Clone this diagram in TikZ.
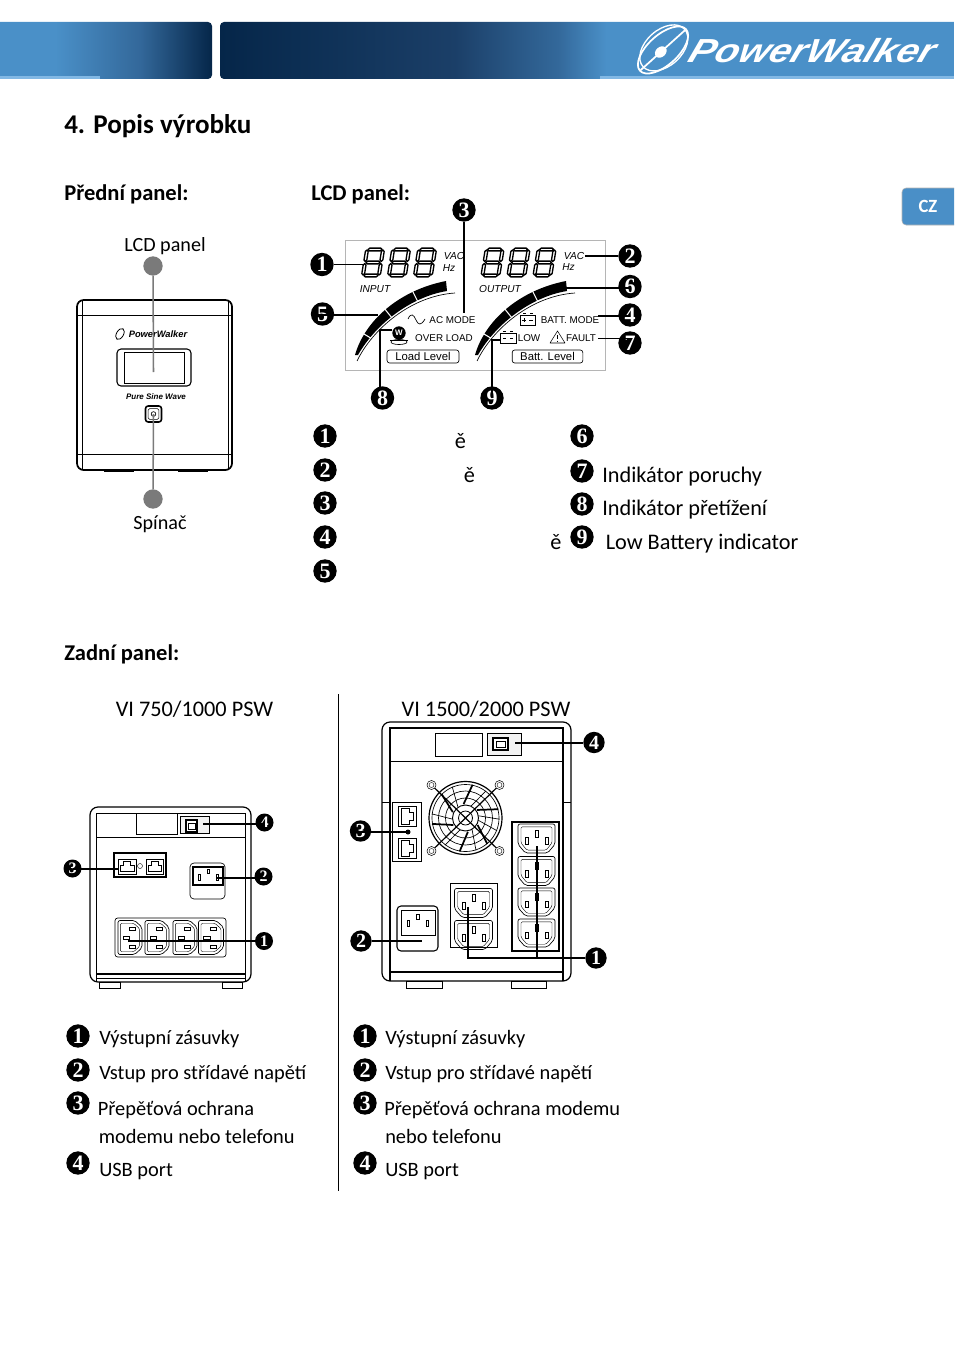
\documentclass[tikz,border=0pt]{standalone}
\usepackage{fontspec}
\setmainfont{Carlito}
\newfontfamily\digfont{Liberation Serif}
\newfontfamily\lcdfont{Liberation Sans}
\definecolor{barbl}{HTML}{4A90C8}
\definecolor{bardk}{HTML}{052649}
\definecolor{barmid}{HTML}{1B3F68}
\definecolor{barmb}{HTML}{33689A}
\definecolor{barlt}{HTML}{82B8E4}
\definecolor{tabbl}{HTML}{4A8FC7}
\definecolor{dotgray}{HTML}{7A7A7A}
\definecolor{lcdgray}{HTML}{B5B5B5}
\pgfdeclarehorizontalshading{barone}{100bp}{color(0bp)=(barbl); color(38bp)=(barbl); color(58bp)=(barmb); color(75bp)=(bardk); color(100bp)=(bardk)}
\pgfdeclarehorizontalshading{bartwo}{100bp}{color(0bp)=(bardk); color(25bp)=(bardk); color(41bp)=(barmid); color(48bp)=(barmb); color(51.3bp)=(barbl); color(100bp)=(barbl)}
\tikzset{
  numbig/.style={circle,fill=black,inner sep=0pt,minimum size=17.5pt,text=white,font=\digfont\bfseries\fontsize{16.5}{17}\selectfont},
  numsmall/.style={circle,fill=black,inner sep=0pt,minimum size=13.5pt,text=white,font=\digfont\bfseries\fontsize{12}{12}\selectfont},
  lead/.style={draw=black,line width=1.5pt},
  leadl/.style={draw=black,line width=1.15pt},
  glead/.style={draw=dotgray,line width=1.15pt},
  gdot/.style={circle,fill=dotgray,inner sep=0pt,minimum size=14.5pt},
  body/.style={anchor=base west,inner sep=0pt,font=\fontsize{16.7}{18}\selectfont},
  bodyc/.style={anchor=base,inner sep=0pt,font=\fontsize{16.7}{18}\selectfont},
  rear/.style={anchor=base west,inner sep=0pt,font=\fontsize{15.3}{18}\selectfont},
  labc/.style={anchor=base,inner sep=0pt,font=\fontsize{15.1}{18}\selectfont},
  head/.style={anchor=base west,inner sep=0pt,font=\bfseries\fontsize{16.9}{18}\selectfont},
  lcdit/.style={anchor=base,inner sep=0pt,font=\lcdfont\itshape\fontsize{7.6}{8}\selectfont},
  lcdtx/.style={anchor=base,inner sep=0pt,font=\lcdfont\fontsize{7.4}{8}\selectfont},
  lcdbox/.style={draw=black,line width=.5pt,rounded corners=2pt,inner sep=0pt,font=\lcdfont\fontsize{8.5}{9}\selectfont},
  seg/.style={draw=black,fill=white,line width=1pt,line join=round},
  ups/.style={draw=black,line width=.5pt},
  upsb/.style={draw=black,line width=.9pt},
  thinl/.style={draw=black,line width=.3pt},
}
\newcommand\hseg[1]{\path[seg] (2,#1)--(3.5,#1-1.4)--(14.5,#1-1.4)--(16,#1)--(14.5,#1+1.4)--(3.5,#1+1.4)--cycle;}
\newcommand\vseg[3]{\path[seg] (#1,#2)--(#1+1.4,#2+1.5)--(#1+1.4,#3-1.5)--(#1,#3)--(#1-1.4,#3-1.5)--(#1-1.4,#2+1.5)--cycle;}
\newcommand\segdigit[2]{%
  \begin{scope}[shift={(#1,#2)},xslant=0.16]
    \hseg{-13}\hseg{0}\hseg{13}
    \vseg{1}{-12.5}{-1}\vseg{1}{1}{12.5}
    \vseg{17}{-12.5}{-1}\vseg{17}{1}{12.5}
  \end{scope}}
\newcommand\meter[1]{%
  \begin{scope}[shift={(#1,0)}]
    \fill[black] (355,355) .. controls (365,320) and (400,290) .. (446,281) -- (447,291) .. controls (410,297) and (375,325) .. (358,355) -- cycle;
    \draw[white,line width=.8pt] (364,334)--(374,340);
    \draw[white,line width=.8pt] (384,308)--(392,318);
    \draw[white,line width=.8pt] (412,290)--(418,302);
    \draw[black,line width=.5pt] (357,361) .. controls (372,330) and (410,296) .. (455,293);
  \end{scope}}
\newcommand\outlet[5]{% x y rot w h
  \begin{scope}[shift={(#1,#2)},rotate=#3]
    \draw[ups,rounded corners=1.5pt] (-#4/2,-#5/2)--(#4/2,-#5/2)--(#4/2,#5*.2)--(#4*.3,#5/2)--(-#4*.3,#5/2)--(-#4/2,#5*.2)--cycle;
    \draw[thinl,rounded corners=1pt] (-#4*.42,-#5*.4)--(#4*.42,-#5*.4)--(#4*.42,#5*.15)--(#4*.26,#5*.4)--(-#4*.26,#5*.4)--(-#4*.42,#5*.15)--cycle;
    \draw[thinl] (-1.5,-#5*.3) rectangle (1.5,-#5*.05);
    \draw[thinl] (-#4*.27-1.5,-#5*.03) rectangle (-#4*.27+1.5,#5*.2);
    \draw[thinl] (#4*.27-1.5,-#5*.03) rectangle (#4*.27+1.5,#5*.2);
  \end{scope}}
\newcommand\jack[5]{% x y rot w h
  \begin{scope}[shift={(#1,#2)},rotate=#3]
    \draw[ups] (-#4/2,-#5/2) rectangle (#4/2,#5/2);
    \draw[thinl] (-#4*.4,#5*.3)--(-#4*.4,-#5*.1)--(-#4*.2,-#5*.1)--(-#4*.2,-#5*.35)--(#4*.2,-#5*.35)--(#4*.2,-#5*.1)--(#4*.4,-#5*.1)--(#4*.4,#5*.3)--cycle;
  \end{scope}}
\begin{document}
\begin{tikzpicture}[x=0.75pt,y=-0.75pt]
\useasboundingbox (0,0) rectangle (954,1352);
\fill[white] (0,0) rectangle (954,1352);
% header
\path[shading=barone] (0,22) [rounded corners=3pt] -- (212,22) -- (212,79) [sharp corners] -- (0,79) -- cycle;
\path[shading=bartwo] (954,22) [rounded corners=3pt] -- (220,22) -- (220,79) [sharp corners] -- (954,79) -- cycle;
\fill[barlt] (0,76) rectangle (100,79);
\fill[barlt] (600,76) rectangle (954,79);
\begin{scope}[shift={(663,50)},rotate=42]
  \draw[white,line width=1.3pt] (0,0) ellipse [x radius=31,y radius=15];
  \draw[white,line width=1pt] (2,-1) ellipse [x radius=28,y radius=18];
  \draw[white,line width=1.3pt] (-30,0)--(30,0);
  \fill[white] (-3,0) ellipse [x radius=6.5,y radius=5];
\end{scope}
\node[anchor=base west,inner sep=0pt,text=white,xscale=1.15,yscale=.98,xslant=.3,font=\lcdfont\bfseries\itshape\fontsize{25.5}{26}\selectfont] (logo) at (686,63) {PowerWalker};
% tab
\path[fill=tabbl,draw=lcdgray,line width=.4pt] (954,188) [rounded corners=3pt] -- (902,188) -- (902,225) [sharp corners] -- (954,225);
\node[text=white,inner sep=0pt,font=\bfseries\fontsize{14}{15}\selectfont] (tab) at (928,206) {CZ};
% headings
\node[head,font=\bfseries\fontsize{20.3}{21}\selectfont] (title) at (64,134) {4. Popis výrobku};
\node[head] (hfront) at (64,200) {Přední panel:};
\node[head] (hlcd) at (311,200) {LCD panel:};
\node[head] (hback) at (64,660) {Zadní panel:};
% front UPS
\node[labc] (lcdlab) at (165,251) {LCD panel};
\node[labc] (spinac) at (160,529) {Spínač};
\draw[upsb,line width=1.3pt,rounded corners=5pt] (77,300) rectangle (232,470);
\draw[ups,line width=.35pt] (78,315)--(231,315);
\draw[ups,line width=.4pt] (78,454)--(231,454);
\draw[ups,line width=.4pt] (82,301)--(82,469);
\draw[ups,line width=.4pt] (228,301)--(228,469);
\draw[black,line width=1pt] (104,471)--(134,471) (178,471)--(208,471);
\node[inner sep=0pt,font=\lcdfont\bfseries\itshape\fontsize{7}{8}\selectfont] (flogo) at (158,334) {PowerWalker};
\draw[black,line width=.6pt] (120,334) ellipse [x radius=3.5,y radius=6,rotate=-30];
\draw[ups,line width=.8pt,rounded corners=3pt] (117,349) rectangle (191,386);
\draw[ups] (124,352) rectangle (184,383);
\node[inner sep=0pt,font=\lcdfont\bfseries\itshape\fontsize{6}{7}\selectfont] (pure) at (156,396.5) {Pure Sine Wave};
\node[draw=black,line width=1.2pt,rounded corners=2pt,minimum size=12pt,inner sep=0pt] (button) at (153.5,414) {};
\node[draw=black,line width=.4pt,rounded corners=1pt,minimum size=8pt,inner sep=0pt] (buttonin) at (153.5,414) {};
\node[draw=black,circle,line width=.5pt,minimum size=3.5pt,inner sep=0pt] (buttonc) at (153.5,414) {};
\coordinate (lcdend) at (153.5,372);
\node[gdot] (dottop) at (153,266) {};
\node[gdot] (dotbot) at (153,499) {};
\draw[glead] (dottop) -- (lcdend);
\draw[glead] (dotbot) -- (button.center);
% LCD panel
\draw[lcdgray,line width=.6pt] (345,240) rectangle (605.5,370);
\segdigit{364}{262.5}\segdigit{390}{262.5}\segdigit{416}{262.5}
\segdigit{483.5}{262.5}\segdigit{509.5}{262.5}\segdigit{535.5}{262.5}
\meter{0}\meter{120}
\node[lcdit] (input) at (375,292) {INPUT};
\node[lcdit] (output) at (500,292) {OUTPUT};
\node[lcdit] (vac1) at (454,259.5) {VAC};
\node[lcdit] (hz1) at (449,271) {Hz};
\node[lcdit] (vac2) at (574,259) {VAC};
\node[lcdit] (hz2) at (568.5,270.5) {Hz};
\node[lcdtx] (acmode) at (452.5,323) {AC MODE};
\node[lcdtx] (overload) at (444,341) {OVER LOAD};
\node[lcdtx] (battmode) at (570,323) {BATT. MODE};
\node[lcdtx] (low) at (529,341) {LOW};
\node[lcdtx] (fault) at (581,341) {FAULT};
\node[lcdbox,minimum width=54pt,minimum height=9.8pt] (loadlev) at (423,356.5) {Load Level};
\node[lcdbox,minimum width=53pt,minimum height=9.8pt] (battlev) at (547.5,356.5) {Batt. Level};
\draw[black,line width=.5pt] (408,319) .. controls (411,312) and (414,315) .. (416,320) .. controls (418,325) and (421,326) .. (425,319);
\node[circle,fill=black,inner sep=0pt,minimum size=10pt,text=white,font=\lcdfont\bfseries\fontsize{6}{6}\selectfont] (wicon) at (399,333) {W};
\draw[black,line width=.5pt] (399,342) ellipse [x radius=8,y radius=2.5];
\draw[black,line width=.7pt] (390,340)--(408,340);
\draw[black,line width=.4pt] (520,315) rectangle (535,325);
\draw[black,line width=.4pt] (523,313.5)--(526,313.5) (530,313.5)--(533,313.5) (522,320)--(526,320) (524,318)--(524,322) (529,320)--(533,320);
\draw[black,line width=.4pt] (500,333) rectangle (516,343);
\draw[black,line width=.4pt] (503,331.5)--(506,331.5) (510,331.5)--(513,331.5) (503,338)--(506,338) (510,338)--(513,338);
\draw[black,line width=.4pt,line join=round] (550,343)--(557.5,331)--(565,343)--cycle;
\draw[black,line width=.4pt] (557.5,335)--(557.5,339) (557.5,340.5)--(557.5,341.5);
\node[numbig] (c1) at (322,264.5) {1};
\node[numbig] (c2) at (630,256) {2};
\node[numbig] (c3) at (464,210) {3};
\node[numbig] (c4) at (630,315) {4};
\node[numbig] (c5) at (322.5,314) {5};
\node[numbig] (c6) at (630,286.5) {6};
\node[numbig] (c7) at (630,343) {7};
\node[numbig] (c8) at (382.5,398) {8};
\node[numbig] (c9) at (492,398) {9};
\coordinate (e1) at (363,264.5);
\coordinate (e2) at (585,256);
\coordinate (e3) at (464,313);
\coordinate (e4) at (598,316);
\coordinate (e5) at (378,315);
\coordinate (e6) at (566,288);
\coordinate (e7) at (598,338.5);
\coordinate (e8) at (392,330);
\coordinate (e9) at (500,340);
\draw[leadl] (c1)--(e1);
\draw[leadl] (c2)--(e2);
\draw[leadl] (c3)--(e3);
\draw[leadl] (c4 |- e4)--(e4);
\draw[leadl] (c5 |- e5)--(e5);
\draw[leadl] (c6 |- e6)--(e6);
\draw[leadl] (c7 |- e7)--(e7);
\draw[leadl] (380,390) |- (e8);
\draw[leadl] (c9.center) |- (e9);
% LCD legend
\node[numbig] (l1) at (325,436) {1};
\node[numbig] (l2) at (325,470) {2};
\node[numbig] (l3) at (325,503) {3};
\node[numbig] (l4) at (325,537) {4};
\node[numbig] (l5) at (325,571) {5};
\node[numbig] (l6) at (582,436) {6};
\node[numbig] (l7) at (582,471) {7};
\node[numbig] (l8) at (582,504) {8};
\node[numbig] (l9) at (582,537) {9};
\node[bodyc] (ee1) at (460.5,448) {ě};
\node[bodyc] (ee2) at (469.5,482) {ě};
\node[bodyc] (ee3) at (556,549) {ě};
\node[body] (t7) at (602,482) {Indikátor poruchy};
\node[body] (t8) at (602,515) {Indikátor přetížení};
\node[body] (t9) at (605.5,549) {Low Battery indicator};
% rear labels
\node[bodyc] (m1) at (194.5,716) {VI 750/1000 PSW};
\node[bodyc] (m2) at (486,716) {VI 1500/2000 PSW};
\draw[black,line width=.6pt] (338,694)--(338,1191);
% small UPS
\draw[upsb,rounded corners=6pt] (90,807) rectangle (251,982);
\draw[ups,line width=.7pt] (96,982)--(96,813)--(245,813)--(245,982);
\draw[ups] (96,837)--(245,837);
\draw[ups,line width=.8pt] (96,974)--(245,974);
\draw[thinl] (96,978)--(245,978);
\draw[ups] (99,982) rectangle (120,988);
\draw[ups] (222,982) rectangle (242,988);
\draw[ups,line width=.6pt] (136,813) rectangle (177,834);
\draw[ups,fill=black!5] (180,816) rectangle (209,833);
\draw[ups,line width=1pt,fill=white] (186,820) rectangle (197,832);
\draw[thinl] (188,823) rectangle (195,829);
\draw[ups,line width=1.1pt] (114,853) rectangle (166,877);
\jack{127}{866.5}{0}{18}{15}
\jack{154.5}{866.5}{0}{17}{15}
\draw[thinl] (140,866) circle (2.5);
\draw[ups,rounded corners=3pt] (190,863) rectangle (225,899);
\draw[ups,line width=.8pt] (193,867) rectangle (223,885);
\draw[thinl] (207,869) rectangle (209,873);
\draw[thinl] (198,874) rectangle (200,880);
\draw[thinl] (216,874) rectangle (218,880);
\draw[ups,rounded corners=2pt] (115,918) rectangle (226,957);
\outlet{130}{937.5}{90}{34}{24}
\outlet{157}{937.5}{90}{34}{24}
\outlet{185}{937.5}{90}{34}{24}
\outlet{211}{937.5}{90}{34}{25}
\node[numsmall] (s1) at (264,941) {1};
\node[numsmall] (s2) at (263.5,876.5) {2};
\node[numsmall] (s3) at (72.5,868.5) {3};
\node[numsmall] (s4) at (264.5,822.5) {4};
\coordinate (se1) at (128,941);
\coordinate (se2) at (217,878);
\coordinate (se3) at (118,869);
\coordinate (se4) at (203,824);
\draw[lead,line width=1.1pt] (s1)--(se1);
\draw[lead,line width=1.1pt] (s2 |- se2)--(se2);
\draw[lead,line width=1.1pt] (s3 |- se3)--(se3);
\draw[lead,line width=1.1pt] (s4 |- se4)--(se4);
% large UPS
\draw[upsb,rounded corners=6pt] (382,722) rectangle (571,981);
\draw[ups,line width=.8pt] (390,981)--(390,728)--(563,728)--(563,981);
\draw[ups] (390,761)--(563,761);
\draw[ups,line width=.8pt] (390,972)--(563,972);
\draw[thinl] (382,802)--(390,802) (563,802)--(571,802);
\draw[ups] (406,981) rectangle (442,988);
\draw[ups] (511,981) rectangle (546,988);
\draw[ups,line width=.6pt] (435,733) rectangle (482,756);
\draw[ups,fill=black!5] (487,733) rectangle (521,755);
\draw[ups,line width=1pt,fill=white] (493,738) rectangle (508,750);
\draw[thinl] (496,741) rectangle (505,747);
\draw[ups,line width=.6pt] (392,802) rectangle (421,861);
\jack{407}{816}{-90}{20}{18}
\jack{407}{848}{-90}{20}{18}
\fill[black] (408,832) circle (2.5);
% fan
\begin{scope}[shift={(465.5,818)}]
  \draw[ups,line width=.9pt] (0,0) circle (36.5);
  \draw[ups,line width=.5pt] (0,0) circle (33.5);
  \draw[ups,line width=.5pt] (0,0) circle (27);
  \draw[ups,line width=.5pt] (0,0) circle (20);
  \draw[ups,line width=.7pt] (0,0) circle (13);
  \draw[ups,line width=.6pt] (0,0) circle (7);
  \foreach \a in {30,80,150,205,262,325}{\draw[black,line width=1.3pt] (\a:14)--(\a+20:34);}
  \foreach \a in {10,60,115,175,235,295,350}{\draw[thinl,line width=.5pt] (\a:13)--(\a+12:34);}
  \draw[black,line width=.9pt] (-34,-33)--(34,33) (34,-33)--(-34,33);
  \foreach \px/\py in {-34/-33,34/-33,-34/33,34/33}{\draw[thinl,line width=.4pt,fill=white] (\px,\py) circle (4.5); \draw[thinl] (\px,\py) circle (2.5);}
\end{scope}
\draw[ups,line width=1pt,fill=white] (512,822) rectangle (559,951);
\outlet{536.5}{838.5}{0}{37}{29}
\outlet{536.5}{871}{0}{37}{29}
\outlet{536.5}{902}{0}{37}{28}
\outlet{536.5}{933}{0}{37}{28}
\draw[ups] (450,883) rectangle (497,947);
\outlet{473.5}{903}{0}{38}{29}
\outlet{473.5}{935}{0}{38}{29}
\draw[ups,line width=.8pt,rounded corners=3pt] (397,906) rectangle (438,951);
\draw[ups,line width=.7pt] (401,910) rectangle (435,935);
\draw[thinl] (416.5,914) rectangle (419,919);
\draw[thinl] (407,920) rectangle (409.5,926);
\draw[thinl] (426,920) rectangle (428.5,926);
\node[numbig,minimum size=16pt,font=\digfont\bfseries\fontsize{15}{15}\selectfont] (b1) at (596,958) {1};
\node[numbig,minimum size=16pt,font=\digfont\bfseries\fontsize{15}{15}\selectfont] (b2) at (361,941) {2};
\node[numbig,minimum size=16pt,font=\digfont\bfseries\fontsize{15}{15}\selectfont] (b3) at (360.5,831) {3};
\node[numbig,minimum size=16pt,font=\digfont\bfseries\fontsize{15}{15}\selectfont] (b4) at (594,742.5) {4};
\coordinate (be1a) at (536.5,846);
\coordinate (be1b) at (467.5,907);
\coordinate (be2) at (422,941);
\coordinate (be3) at (408,832);
\coordinate (be4) at (515,742.5);
\draw[lead] (b1) -| (be1a);
\draw[lead] (b1) -| (be1b);
\draw[lead] (b2)--(be2);
\draw[lead] (b3 |- be3)--(be3);
\draw[lead] (b4)--(be4);
% rear legends
\node[numbig] (p1) at (78,1036) {1};
\node[numbig] (p2) at (78,1070) {2};
\node[numbig] (p3) at (78,1103) {3};
\node[numbig] (p4) at (78,1163) {4};
\node[rear] (pt1) at (99,1044) {Výstupní zásuvky};
\node[rear] (pt2) at (99,1079) {Vstup pro střídavé napětí};
\node[rear] (pt3) at (97.5,1115) {Přepěťová ochrana};
\node[rear] (pt3b) at (98.5,1143) {modemu nebo telefonu};
\node[rear] (pt4) at (99,1176) {USB port};
\node[numbig] (q1) at (365,1036) {1};
\node[numbig] (q2) at (365,1070) {2};
\node[numbig] (q3) at (365,1103) {3};
\node[numbig] (q4) at (365,1163) {4};
\node[rear] (qt1) at (385,1044) {Výstupní zásuvky};
\node[rear] (qt2) at (385,1079) {Vstup pro střídavé napětí};
\node[rear] (qt3) at (384,1115) {Přepěťová ochrana modemu};
\node[rear] (qt3b) at (385,1143) {nebo telefonu};
\node[rear] (qt4) at (385,1176) {USB port};
\end{tikzpicture}
\end{document}
